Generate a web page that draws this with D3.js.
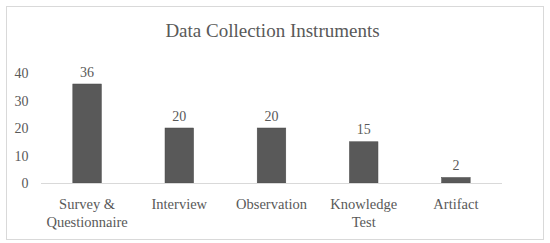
<!DOCTYPE html>
<html>
<head>
<meta charset="utf-8">
<script src="https://cdn.jsdelivr.net/npm/d3@7"></script>
<style>
  body { margin: 0; background: #fff; }
  text { font-family: "Liberation Serif", "DejaVu Serif", serif; fill: #595959; }
</style>
</head>
<body>
<div class="canvas"></div>
<script>
const categories = ['Survey & Questionnaire', 'Interview', 'Observation', 'Knowledge Test', 'Artifact'];
const catLines = [['Survey &', 'Questionnaire'], ['Interview'], ['Observation'], ['Knowledge', 'Test'], ['Artifact']];
const values = [36, 20, 20, 15, 2];
const yTicks = [0, 10, 20, 30, 40];

const dims = {width: 550, height: 243};
const plot = {left: 41, right: 502, top: 73, bottom: 183};

const svg = d3.select('.canvas')
    .append('svg')
    .attr('width', dims.width)
    .attr('height', dims.height);

// outer frame
svg.append('rect')
    .attr('x', 6.5).attr('y', 6.5)
    .attr('width', 537).attr('height', 233)
    .attr('fill', '#fff')
    .attr('stroke', '#d9d9d9');

svg.append('text')
    .attr('x', (plot.left + plot.right) / 2 + 1)
    .attr('y', 37)
    .attr('text-anchor', 'middle')
    .attr('font-size', 19)
    .text('Data Collection Instruments');

const x = d3.scaleBand()
    .domain(categories)
    .range([plot.left, plot.right])
    .paddingInner(0.69)
    .paddingOuter(0.345);

const y = d3.scaleLinear()
    .domain([0, 40])
    .range([plot.bottom, plot.top]);

// y tick labels
svg.append('g')
    .selectAll('text')
    .data(yTicks)
    .enter().append('text')
    .attr('x', 28.5)
    .attr('y', d => y(d) + 5)
    .attr('text-anchor', 'end')
    .attr('font-size', 14)
    .text(d => d);

// bars
svg.append('g')
    .selectAll('rect')
    .data(values)
    .enter().append('rect')
    .attr('x', (d, i) => x(categories[i]))
    .attr('y', d => y(d))
    .attr('width', x.bandwidth())
    .attr('height', d => y(0) - y(d))
    .attr('fill', '#595959')
    .attr('stroke', '#4a4a4a')
    .attr('stroke-width', 0.5);

// baseline
svg.append('line')
    .attr('x1', plot.left).attr('x2', plot.right)
    .attr('y1', y(0) + 0.5).attr('y2', y(0) + 0.5)
    .attr('stroke', '#d9d9d9')
    .attr('stroke-width', 1);

// value labels
svg.append('g')
    .selectAll('text')
    .data(values)
    .enter().append('text')
    .attr('x', (d, i) => x(categories[i]) + x.bandwidth() / 2)
    .attr('y', d => y(d) - 7.5)
    .attr('text-anchor', 'middle')
    .attr('font-size', 14)
    .text(d => d);

// category labels
const cat = svg.append('g')
    .selectAll('text')
    .data(categories)
    .enter().append('text')
    .attr('x', d => x(d) + x.bandwidth() / 2)
    .attr('y', 208.5)
    .attr('text-anchor', 'middle')
    .attr('font-size', 14.5);

cat.selectAll('tspan')
    .data((d, i) => catLines[i])
    .enter().append('tspan')
    .attr('x', function() { return d3.select(this.parentNode).attr('x'); })
    .attr('dy', (d, i) => i === 0 ? 0 : 18.5)
    .text(d => d);
</script>
</body>
</html>
